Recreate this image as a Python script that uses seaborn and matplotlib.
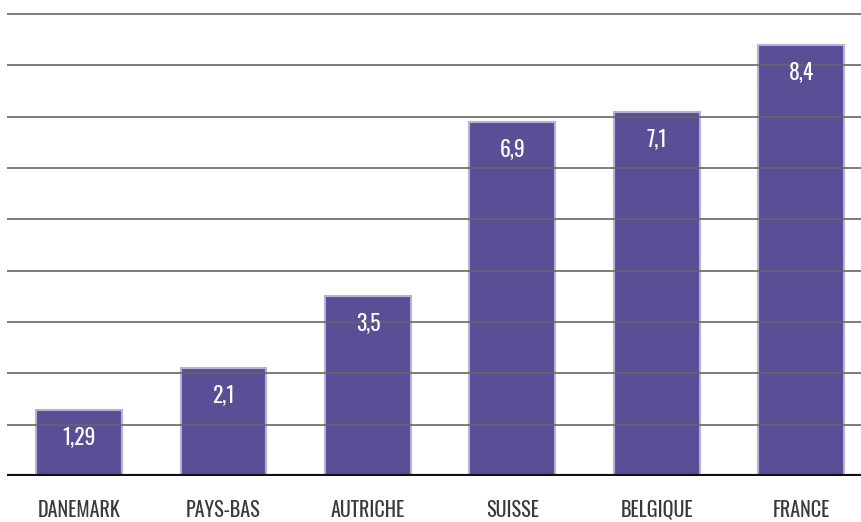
import matplotlib
matplotlib.use("Agg")
import matplotlib.pyplot as plt
import seaborn as sns
import pandas as pd

# Data
pays = ["DANEMARK", "PAYS-BAS", "AUTRICHE", "SUISSE", "BELGIQUE", "FRANCE"]
valeurs = [1.29, 2.1, 3.5, 6.9, 7.1, 8.4]
etiquettes = ["1,29", "2,1", "3,5", "6,9", "7,1", "8,4"]

df = pd.DataFrame({"pays": pays, "valeur": valeurs})

sns.set_style("white")
plt.rcParams["font.family"] = ["Oswald", "Archivo Narrow", "DejaVu Sans"]
plt.rcParams["font.weight"] = 300

fig = plt.figure(figsize=(8.61, 5.22), dpi=100)
ax = fig.add_axes([0.008, 0.0881, 0.992, 0.8869])

sns.barplot(data=df, x="pays", y="valeur", color="#5c4e96", saturation=1,
            width=0.595, edgecolor="#b9b0d9", linewidth=1.5, ax=ax, zorder=2)

# horizontal grid drawn over the bars
for y in range(1, 10):
    ax.axhline(y, color="#666666", linewidth=1.2, zorder=3)
ax.axhline(0, color="#111111", linewidth=3, zorder=4)

for bar, txt in zip(ax.patches, etiquettes):
    ax.annotate(txt, (bar.get_x() + bar.get_width() / 2, bar.get_height()),
                xytext=(0, -19.5), textcoords="offset points",
                ha="center", va="center", color="white", fontsize=15.5, zorder=5)

ax.set_ylim(0, 9.02)
ax.set_xlim(-0.5, 5.415)
ax.set_yticks([])
ax.set_xlabel("")
ax.set_ylabel("")
ax.tick_params(axis="x", length=0, pad=17, labelsize=14.5, labelcolor="#3a3a3a")
for s in ax.spines.values():
    s.set_visible(False)

fig.savefig("out.png", dpi=100)
